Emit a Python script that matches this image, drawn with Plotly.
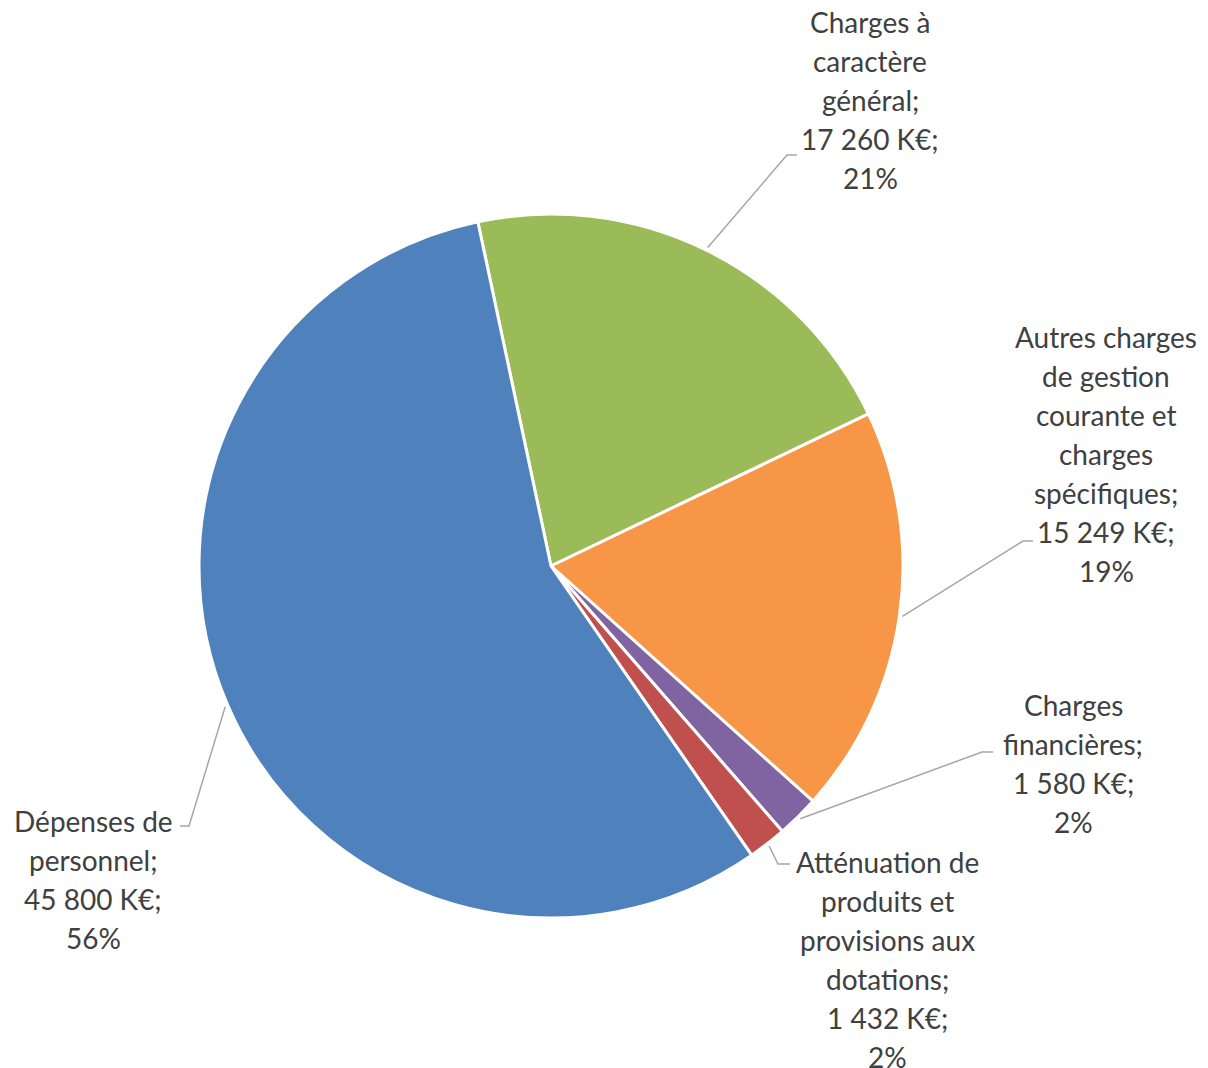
import math
import plotly.graph_objects as go

# data
categories = [
    "Charges à<br>caractère<br>général",
    "Autres charges<br>de gestion<br>courante et<br>charges<br>spécifiques",
    "Charges<br>financières",
    "Atténuation de<br>produits et<br>provisions aux<br>dotations",
    "Dépenses de<br>personnel",
]
values_keur = [17260, 15249, 1580, 1432, 45800]
colors = ["#9BBB59", "#F79646", "#8064A2", "#C0504D", "#4F81BD"]

# the page body has an 8px margin, so the figure is a bit smaller than the window
OFF = 8
W, H = 1200, 1060
CX, CY, R = 551, 566, 352   # page pixels
ROTATION = -12

# label layout (page px): text centre x, first line y, leader elbow, leader end
label_layout = [
    dict(x=870, y0=22, elbow=(787, 155), end=(797, 155)),
    dict(x=1106, y0=337, elbow=(1023, 541), end=(1033, 541)),
    dict(x=1073, y0=705, elbow=(982, 752), end=(993, 752)),
    dict(x=887, y0=862, elbow=(778, 864), end=(790, 864)),
    dict(x=93, y0=821, elbow=(189, 826), end=(180, 826)),
]
LINE_STEP = 39
FONT = dict(family="Lato, 'Open Sans', sans-serif", size=28, color="#404040")


def px(x, y):
    return (x - OFF) / W, 1 - (y - OFF) / H


total = sum(values_keur)
x0, y0 = px(CX - R, CY + R)
x1, y1 = px(CX + R, CY - R)

fig = go.Figure(
    go.Pie(
        labels=[c.replace("<br>", " ") for c in categories],
        values=values_keur,
        sort=False,
        direction="clockwise",
        rotation=ROTATION,
        marker=dict(colors=colors, line=dict(color="white", width=3)),
        textinfo="none",
        hoverinfo="label+value+percent",
        showlegend=False,
        domain=dict(x=[x0, x1], y=[y0, y1]),
    )
)

annotations = []
shapes = []
cum = 0
for name, v, lay in zip(categories, values_keur, label_layout):
    pct = round(v / total * 100)
    val = f"{v:,}".replace(",", " ")
    lines = name.split("<br>")
    lines[-1] += ";"
    lines += [f"{val} K€;", f"{pct}%"]
    for i, line in enumerate(lines):
        ax, ay = px(lay["x"], lay["y0"] + i * LINE_STEP)
        annotations.append(dict(
            x=ax, y=ay, xref="paper", yref="paper", text=line,
            showarrow=False, xanchor="center", yanchor="middle", font=FONT,
        ))
    # leader line from slice edge
    ang = math.radians(ROTATION + 360 * (cum + v / 2) / total)
    sx = CX + (R + 3) * math.sin(ang)
    sy = CY - (R + 3) * math.cos(ang)
    pts = [px(sx, sy), px(*lay["elbow"]), px(*lay["end"])]
    path = "M " + " L ".join(f"{a},{b}" for a, b in pts)
    shapes.append(dict(type="path", path=path, xref="paper", yref="paper",
                       line=dict(color="#A6A6A6", width=1.5)))
    cum += v

fig.update_layout(
    width=W, height=H,
    margin=dict(l=0, r=0, t=0, b=0),
    paper_bgcolor="white",
    plot_bgcolor="white",
    annotations=annotations,
    shapes=shapes,
)

fig.write_html("out.html")
